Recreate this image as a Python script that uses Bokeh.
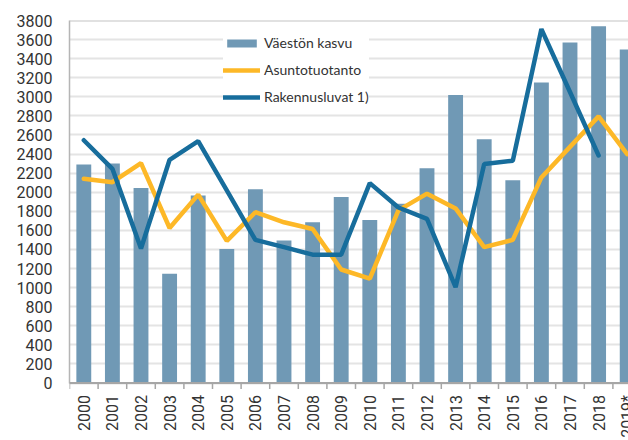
import numpy as np
from bokeh.plotting import figure
from bokeh.models import (Range1d, FixedTicker, Legend, LegendItem, Span,
                          ColumnDataSource)
from bokeh.embed import file_html
from bokeh.resources import INLINE

years = ["2000", "2001", "2002", "2003", "2004", "2005", "2006", "2007", "2008",
         "2009", "2010", "2011", "2012", "2013", "2014", "2015", "2016", "2017",
         "2018", "2019*"]
vaeston_kasvu = [2290, 2300, 2045, 1145, 1965, 1405, 2030, 1495, 1685, 1950,
                 1710, 1880, 2250, 3020, 2555, 2125, 3150, 3570, 3740, 3495]
asuntotuotanto = [2140, 2105, 2305, 1625, 1975, 1490, 1790, 1685, 1615, 1190,
                  1095, 1810, 1985, 1830, 1425, 1500, 2155, 2475, 2795, 2400]
rakennusluvat = [2545, 2245, 1410, 2340, 2535, 2020, 1500, 1425, 1345, 1345,
                 2095, 1840, 1720, 1005, 2295, 2330, 3710, 3050, 2385, np.nan]
y_ticks = list(range(0, 3801, 200))
y_max = 3800

AXFONT = "Roboto"
LGFONT = "Lato"
TXT = "#333333"

# layout (pixels)
W, H = 628, 440
LEFT, TOP = 69, 20
PLOT_H = 362.5          # height of the 0..y_max band
CAT_W = 28.6            # pixel width of one category
below = H - TOP - PLOT_H
y_min = -y_max * below / PLOT_H

xs = [i + 0.5 for i in range(len(years))]
bounds_x = list(range(len(years) + 1))
src = ColumnDataSource(dict(x=xs, year=years, zero=[0] * len(years),
                            bar=vaeston_kasvu, asunto=asuntotuotanto,
                            raken=np.array(rakennusluvat, dtype=float)))

p = figure(width=W, height=H, output_backend="svg", toolbar_location=None,
           x_range=Range1d(0, (W - LEFT) / CAT_W), y_range=Range1d(y_min, y_max),
           x_axis_location=None,
           min_border_left=LEFT, min_border_right=0, min_border_top=TOP,
           min_border_bottom=0)
p.outline_line_color = None
p.background_fill_color = "white"

p.xgrid.visible = False
p.ygrid.ticker = FixedTicker(ticks=y_ticks)
p.ygrid.grid_line_color = "#E4E4E4"
p.ygrid.grid_line_width = 2

bars = p.vbar(x="x", top="bar", width=0.52, source=src, fill_color="#7099B5",
              line_color=None)
l1 = p.line("x", "asunto", source=src, line_color="#FDB827", line_width=4.5,
            line_cap="round")
l2 = p.line("x", "raken", source=src, line_color="#176D9C", line_width=4.5,
            line_cap="round")

# top border and x axis line
p.add_layout(Span(location=y_max, dimension="width", line_color="#C4C4C4",
                  line_width=2))
p.add_layout(Span(location=0, dimension="width", line_color="#A6A6A6",
                  line_width=2))
# category boundary ticks
p.ray(x=bounds_x, y=[0] * len(bounds_x), length=6, length_units="screen",
      angle=-np.pi / 2, line_color="#A6A6A6", line_width=1.5)
# year labels
p.text(x="x", y="zero", text="year", source=src, angle=np.pi / 2,
       y_offset=12, text_align="right", text_baseline="middle",
       text_font={"value": AXFONT}, text_font_size="16px", text_color=TXT)

# y axis
p.yaxis.ticker = FixedTicker(ticks=y_ticks)
p.yaxis.bounds = (0, y_max)
p.yaxis.major_tick_out = 0
p.yaxis.major_tick_in = 0
p.yaxis.minor_tick_out = 0
p.yaxis.minor_tick_in = 0
p.yaxis.major_label_standoff = 17
p.yaxis.axis_line_color = "#B5B5B5"
p.yaxis.axis_line_width = 1.5
p.yaxis.major_label_text_font = AXFONT
p.yaxis.major_label_text_font_size = "16px"
p.yaxis.major_label_text_color = TXT

legend = Legend(items=[LegendItem(label="Väestön kasvu", renderers=[bars]),
                       LegendItem(label="Asuntotuotanto", renderers=[l1]),
                       LegendItem(label="Rakennusluvat 1)", renderers=[l2])],
                location=(154, 276 + 57.5), orientation="vertical",
                glyph_width=37, glyph_height=10, label_height=20, spacing=7,
                padding=8, label_standoff=4, margin=0,
                border_line_color=None, background_fill_color="white",
                background_fill_alpha=1.0,
                label_text_font=LGFONT, label_text_font_size="14px",
                label_text_color=TXT)
p.add_layout(legend, "center")

open("out.html", "w").write(file_html(p, INLINE))
